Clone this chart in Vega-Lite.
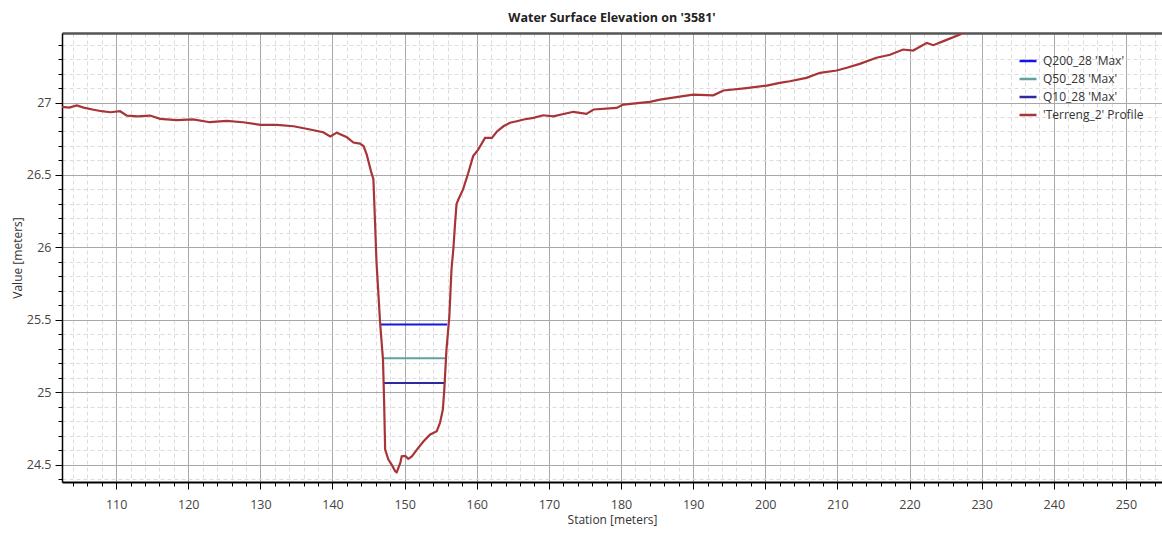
{
 "$schema": "https://vega.github.io/schema/vega-lite/v6.json",
 "width": 1100,
 "height": 449,
 "autosize": "none",
 "padding": {"left": 62, "top": 33, "right": 0, "bottom": 51},
 "background": "white",
 "config": {"view": {"stroke": null}, "font": "Open Sans"},
 "title": {"text": "Water Surface Elevation on '3581'", "fontSize": 12.5, "fontWeight": "bold", "color": "#222222", "anchor": "middle", "offset": 9, "font": "Open Sans"},
 "data": {"values": [
  {"series": "Q200_28 'Max'", "station": 146.7, "elev": 25.467},
  {"series": "Q200_28 'Max'", "station": 155.9, "elev": 25.467},
  {"series": "Q50_28 'Max'", "station": 146.96, "elev": 25.234},
  {"series": "Q50_28 'Max'", "station": 155.6, "elev": 25.234},
  {"series": "Q10_28 'Max'", "station": 147.04, "elev": 25.064},
  {"series": "Q10_28 'Max'", "station": 155.5, "elev": 25.064},
  {"series": "'Terreng_2' Profile", "station": 102.5, "elev": 26.97},
  {"series": "'Terreng_2' Profile", "station": 103.5, "elev": 26.965},
  {"series": "'Terreng_2' Profile", "station": 104.55, "elev": 26.98},
  {"series": "'Terreng_2' Profile", "station": 105.5, "elev": 26.965},
  {"series": "'Terreng_2' Profile", "station": 106.9, "elev": 26.95},
  {"series": "'Terreng_2' Profile", "station": 108.0, "elev": 26.94},
  {"series": "'Terreng_2' Profile", "station": 109.2, "elev": 26.933},
  {"series": "'Terreng_2' Profile", "station": 110.55, "elev": 26.94},
  {"series": "'Terreng_2' Profile", "station": 111.5, "elev": 26.91},
  {"series": "'Terreng_2' Profile", "station": 113.0, "elev": 26.905},
  {"series": "'Terreng_2' Profile", "station": 114.7, "elev": 26.91},
  {"series": "'Terreng_2' Profile", "station": 116.1, "elev": 26.887},
  {"series": "'Terreng_2' Profile", "station": 118.4, "elev": 26.878},
  {"series": "'Terreng_2' Profile", "station": 120.7, "elev": 26.883},
  {"series": "'Terreng_2' Profile", "station": 123.0, "elev": 26.864},
  {"series": "'Terreng_2' Profile", "station": 125.3, "elev": 26.873},
  {"series": "'Terreng_2' Profile", "station": 127.6, "elev": 26.864},
  {"series": "'Terreng_2' Profile", "station": 130.0, "elev": 26.846},
  {"series": "'Terreng_2' Profile", "station": 132.3, "elev": 26.846},
  {"series": "'Terreng_2' Profile", "station": 134.6, "elev": 26.836},
  {"series": "'Terreng_2' Profile", "station": 136.9, "elev": 26.814},
  {"series": "'Terreng_2' Profile", "station": 138.7, "elev": 26.795},
  {"series": "'Terreng_2' Profile", "station": 139.7, "elev": 26.765},
  {"series": "'Terreng_2' Profile", "station": 140.6, "elev": 26.792},
  {"series": "'Terreng_2' Profile", "station": 142.0, "elev": 26.76},
  {"series": "'Terreng_2' Profile", "station": 142.9, "elev": 26.724},
  {"series": "'Terreng_2' Profile", "station": 143.8, "elev": 26.716},
  {"series": "'Terreng_2' Profile", "station": 144.3, "elev": 26.7},
  {"series": "'Terreng_2' Profile", "station": 144.75, "elev": 26.64},
  {"series": "'Terreng_2' Profile", "station": 145.4, "elev": 26.514},
  {"series": "'Terreng_2' Profile", "station": 145.67, "elev": 26.47},
  {"series": "'Terreng_2' Profile", "station": 145.9, "elev": 26.17},
  {"series": "'Terreng_2' Profile", "station": 146.1, "elev": 25.9},
  {"series": "'Terreng_2' Profile", "station": 146.6, "elev": 25.48},
  {"series": "'Terreng_2' Profile", "station": 147.0, "elev": 25.225},
  {"series": "'Terreng_2' Profile", "station": 147.15, "elev": 24.95},
  {"series": "'Terreng_2' Profile", "station": 147.3, "elev": 24.604},
  {"series": "'Terreng_2' Profile", "station": 147.75, "elev": 24.535},
  {"series": "'Terreng_2' Profile", "station": 148.2, "elev": 24.5},
  {"series": "'Terreng_2' Profile", "station": 148.7, "elev": 24.454},
  {"series": "'Terreng_2' Profile", "station": 148.9, "elev": 24.447},
  {"series": "'Terreng_2' Profile", "station": 149.4, "elev": 24.512},
  {"series": "'Terreng_2' Profile", "station": 149.6, "elev": 24.557},
  {"series": "'Terreng_2' Profile", "station": 150.1, "elev": 24.56},
  {"series": "'Terreng_2' Profile", "station": 150.5, "elev": 24.54},
  {"series": "'Terreng_2' Profile", "station": 151.0, "elev": 24.557},
  {"series": "'Terreng_2' Profile", "station": 151.7, "elev": 24.604},
  {"series": "'Terreng_2' Profile", "station": 152.6, "elev": 24.66},
  {"series": "'Terreng_2' Profile", "station": 153.5, "elev": 24.707},
  {"series": "'Terreng_2' Profile", "station": 154.45, "elev": 24.73},
  {"series": "'Terreng_2' Profile", "station": 154.9, "elev": 24.788},
  {"series": "'Terreng_2' Profile", "station": 155.3, "elev": 24.88},
  {"series": "'Terreng_2' Profile", "station": 155.5, "elev": 25.018},
  {"series": "'Terreng_2' Profile", "station": 155.8, "elev": 25.294},
  {"series": "'Terreng_2' Profile", "station": 156.2, "elev": 25.524},
  {"series": "'Terreng_2' Profile", "station": 156.5, "elev": 25.85},
  {"series": "'Terreng_2' Profile", "station": 156.75, "elev": 25.985},
  {"series": "'Terreng_2' Profile", "station": 157.0, "elev": 26.17},
  {"series": "'Terreng_2' Profile", "station": 157.2, "elev": 26.3},
  {"series": "'Terreng_2' Profile", "station": 157.45, "elev": 26.33},
  {"series": "'Terreng_2' Profile", "station": 158.1, "elev": 26.4},
  {"series": "'Terreng_2' Profile", "station": 158.8, "elev": 26.51},
  {"series": "'Terreng_2' Profile", "station": 159.5, "elev": 26.63},
  {"series": "'Terreng_2' Profile", "station": 160.2, "elev": 26.675},
  {"series": "'Terreng_2' Profile", "station": 161.15, "elev": 26.756},
  {"series": "'Terreng_2' Profile", "station": 162.1, "elev": 26.756},
  {"series": "'Terreng_2' Profile", "station": 162.8, "elev": 26.8},
  {"series": "'Terreng_2' Profile", "station": 163.7, "elev": 26.836},
  {"series": "'Terreng_2' Profile", "station": 164.6, "elev": 26.86},
  {"series": "'Terreng_2' Profile", "station": 165.55, "elev": 26.871},
  {"series": "'Terreng_2' Profile", "station": 166.5, "elev": 26.883},
  {"series": "'Terreng_2' Profile", "station": 167.85, "elev": 26.894},
  {"series": "'Terreng_2' Profile", "station": 169.2, "elev": 26.912},
  {"series": "'Terreng_2' Profile", "station": 170.6, "elev": 26.905},
  {"series": "'Terreng_2' Profile", "station": 173.4, "elev": 26.936},
  {"series": "'Terreng_2' Profile", "station": 175.2, "elev": 26.922},
  {"series": "'Terreng_2' Profile", "station": 176.2, "elev": 26.952},
  {"series": "'Terreng_2' Profile", "station": 179.4, "elev": 26.963},
  {"series": "'Terreng_2' Profile", "station": 180.3, "elev": 26.986},
  {"series": "'Terreng_2' Profile", "station": 184.0, "elev": 27.005},
  {"series": "'Terreng_2' Profile", "station": 185.4, "elev": 27.02},
  {"series": "'Terreng_2' Profile", "station": 188.6, "elev": 27.044},
  {"series": "'Terreng_2' Profile", "station": 190.0, "elev": 27.055},
  {"series": "'Terreng_2' Profile", "station": 192.8, "elev": 27.05},
  {"series": "'Terreng_2' Profile", "station": 194.2, "elev": 27.083},
  {"series": "'Terreng_2' Profile", "station": 197.4, "elev": 27.1},
  {"series": "'Terreng_2' Profile", "station": 200.2, "elev": 27.117},
  {"series": "'Terreng_2' Profile", "station": 202.0, "elev": 27.136},
  {"series": "'Terreng_2' Profile", "station": 203.4, "elev": 27.147},
  {"series": "'Terreng_2' Profile", "station": 205.7, "elev": 27.17},
  {"series": "'Terreng_2' Profile", "station": 207.6, "elev": 27.205},
  {"series": "'Terreng_2' Profile", "station": 209.9, "elev": 27.221},
  {"series": "'Terreng_2' Profile", "station": 211.3, "elev": 27.24},
  {"series": "'Terreng_2' Profile", "station": 213.1, "elev": 27.267},
  {"series": "'Terreng_2' Profile", "station": 215.4, "elev": 27.309},
  {"series": "'Terreng_2' Profile", "station": 217.3, "elev": 27.33},
  {"series": "'Terreng_2' Profile", "station": 219.1, "elev": 27.366},
  {"series": "'Terreng_2' Profile", "station": 220.5, "elev": 27.359},
  {"series": "'Terreng_2' Profile", "station": 222.4, "elev": 27.412},
  {"series": "'Terreng_2' Profile", "station": 223.3, "elev": 27.396},
  {"series": "'Terreng_2' Profile", "station": 224.7, "elev": 27.424},
  {"series": "'Terreng_2' Profile", "station": 227.0, "elev": 27.47},
  {"series": "'Terreng_2' Profile", "station": 228.5, "elev": 27.52}
 ]},
 "encoding": {
  "y": {
   "field": "elev", "type": "quantitative",
   "scale": {"domain": [24.38, 27.48], "nice": false, "zero": false},
   "axis": {
    "title": "Value [meters]", "titleFontSize": 12, "titleFontWeight": "normal", "titleColor": "#333333", "titlePadding": 2,
    "values": [24.4,24.5,24.6,24.7,24.8,24.9,25.0,25.1,25.2,25.3,25.4,25.5,25.6,25.7,25.8,25.9,26.0,26.1,26.2,26.3,26.4,26.5,26.6,26.7,26.8,26.9,27.0,27.1,27.2,27.3,27.4],
    "labelExpr": "abs(datum.value*2 - round(datum.value*2)) < 0.001 ? format(datum.value, '~g') : ''",
    "labelOverlap": false, "labelFontSize": 12.5, "labelColor": "#444444", "labelPadding": 4, "labelFlush": false, "labelBound": false,
    "domainColor": "#000000", "domainWidth": 1.5,
    "tickColor": "#000000", "tickWidth": 1,
    "tickSize": {"condition": {"test": "abs(datum.value*2 - round(datum.value*2)) < 0.001", "value": 7}, "value": 4},
    "grid": true,
    "gridColor": {"condition": {"test": "abs(datum.value*2 - round(datum.value*2)) < 0.001", "value": "#a8a8a8"}, "value": "#dcdcdc"},
    "gridDash": {"condition": {"test": "abs(datum.value*2 - round(datum.value*2)) < 0.001", "value": []}, "value": [4, 3]},
    "gridWidth": 1
   }
  },
  "color": {
   "field": "series", "type": "nominal",
   "scale": {"domain": ["Q200_28 'Max'", "Q50_28 'Max'", "Q10_28 'Max'", "'Terreng_2' Profile"], "range": ["#1414e6", "#5fa3a0", "#2b2b9e", "#a83438"]},
   "legend": {"title": null, "orient": "none", "legendX": 956, "legendY": 18, "symbolType": "stroke", "symbolSize": 289, "symbolStrokeWidth": 2.5, "labelFontSize": 12, "labelColor": "#333333", "labelOffset": 5, "rowPadding": 2, "padding": 0}
  }
 },
 "layer": [
  {
   "transform": [{"filter": {"not": {"field": "series", "equal": "'Terreng_2' Profile"}}}],
   "mark": {"type": "line", "strokeWidth": 2, "clip": true},
   "encoding": {
    "x": {
     "field": "station", "type": "quantitative",
     "scale": {"domain": [102.5, 255], "nice": false, "zero": false},
     "axis": {
      "orient": "bottom", "title": "Station [meters]", "titleFontSize": 12, "titleFontWeight": "normal", "titleColor": "#333333", "titlePadding": 4,
      "values": [104,106,108,110,112,114,116,118,120,122,124,126,128,130,132,134,136,138,140,142,144,146,148,150,152,154,156,158,160,162,164,166,168,170,172,174,176,178,180,182,184,186,188,190,192,194,196,198,200,202,204,206,208,210,212,214,216,218,220,222,224,226,228,230,232,234,236,238,240,242,244,246,248,250,252,254],
      "labelExpr": "datum.value % 10 === 0 ? format(datum.value, 'd') : ''",
      "labelOverlap": false, "labelFontSize": 12.5, "labelColor": "#444444", "labelPadding": 9, "labelFlush": false, "labelBound": false,
      "domainColor": "#000000", "domainWidth": 2,
      "tickColor": "#000000", "tickWidth": 1,
      "tickSize": {"condition": {"test": "datum.value % 10 === 0", "value": 7}, "value": 4},
      "grid": true,
      "gridColor": {"condition": {"test": "datum.value % 10 === 0", "value": "#a8a8a8"}, "value": "#dcdcdc"},
      "gridDash": {"condition": {"test": "datum.value % 10 === 0", "value": []}, "value": [4, 3]},
      "gridWidth": 1
     }
    },
    "detail": {"field": "series"}
   }
  },
  {
   "transform": [{"filter": {"field": "series", "equal": "'Terreng_2' Profile"}}],
   "mark": {"type": "line", "strokeWidth": 2.2, "clip": true},
   "encoding": {
    "x": {
     "field": "station", "type": "quantitative",
     "scale": {"domain": [102.5, 255], "nice": false, "zero": false},
     "axis": {"orient": "top", "title": null, "labels": false, "ticks": false, "grid": false, "domain": true, "domainColor": "#555555", "domainWidth": 2.5}
    }
   }
  }
 ],
 "resolve": {"axis": {"x": "independent"}}
}
